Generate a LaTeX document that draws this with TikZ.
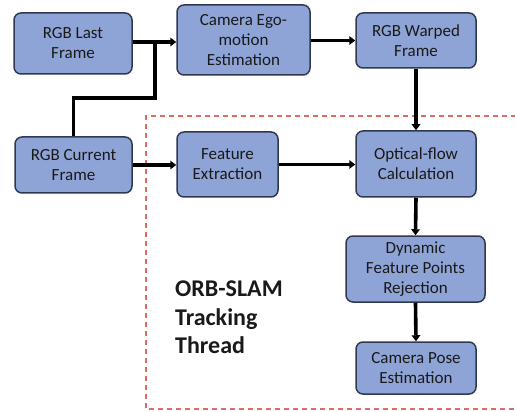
\documentclass[tikz,border=0pt]{standalone}
\usepackage{fontspec}
\setmainfont{Carlito}
\usetikzlibrary{arrows.meta}
\definecolor{boxfill}{HTML}{8FA4D6}
\definecolor{boxline}{HTML}{2E3850}
\definecolor{dashred}{HTML}{E06A64}
\begin{document}
\begin{tikzpicture}[x=1pt,y=-1pt,
  blk/.style={draw=boxline, line width=1.5pt, fill=boxfill, rounded corners=7pt,
    align=center, inner sep=0pt, text=black!90,
    font=\fontsize{17}{20}\selectfont},
  conn/.style={line width=3.6pt, -{Triangle[length=6pt,width=8.5pt]}},
  wire/.style={line width=3.6pt}]
\useasboundingbox (0,0) rectangle (515,412);
% dashed region
\draw[dashred, line width=1.5pt, dash pattern=on 5pt off 4pt]
  (516,116) -- (146,116) -- (146,409) -- (516,409);
\node[blk, minimum width=118pt, minimum height=61pt] (last) at (73,43.5) {RGB Last\\Frame};
\node[blk, minimum width=133pt, minimum height=70pt] (ego) at (243.5,40) {Camera Ego-\\motion\\Estimation};
\node[blk, minimum width=120pt, minimum height=55pt] (warp) at (416,40.5) {RGB Warped\\Frame};
\node[blk, minimum width=117pt, minimum height=56pt] (cur) at (73.5,165) {RGB Current\\Frame};
\node[blk, minimum width=101pt, minimum height=65pt] (feat) at (227.5,164.5) {Feature\\Extraction};
\node[blk, minimum width=120pt, minimum height=66pt] (opt) at (416,164) {Optical-flow\\Calculation};
\node[blk, minimum width=139pt, minimum height=66pt] (dyn) at (415.5,269) {Dynamic\\Feature Points\\Rejection};
\node[blk, minimum width=120pt, minimum height=52pt] (pose) at (416,368) {Camera Pose\\Estimation};
\node[anchor=north west, align=left, inner sep=0pt, text=black!90,
  font=\fontsize{24}{28.5}\selectfont\bfseries] (orb) at (175,281) {ORB-SLAM\\Tracking\\Thread};
% connectors
\coordinate (j) at (155,42);
\coordinate (k) at (155,98);
\draw[conn] (last.east |- j) -- (ego.west |- j);
\draw[wire] (cur.north) -- (cur.north |- k) -- (k) -- (j);
\draw[conn] (ego.east |- warp) -- (warp.west);
\draw[conn] (warp.south) -- (opt.north);
\draw[conn] (cur.east) -- (feat.west |- cur.east);
\draw[conn] (feat.east) -- (opt.west |- feat.east);
\draw[conn] (opt.south) -- (dyn.north);
\draw[conn] (dyn.south) -- (pose.north);
\end{tikzpicture}
\end{document}
